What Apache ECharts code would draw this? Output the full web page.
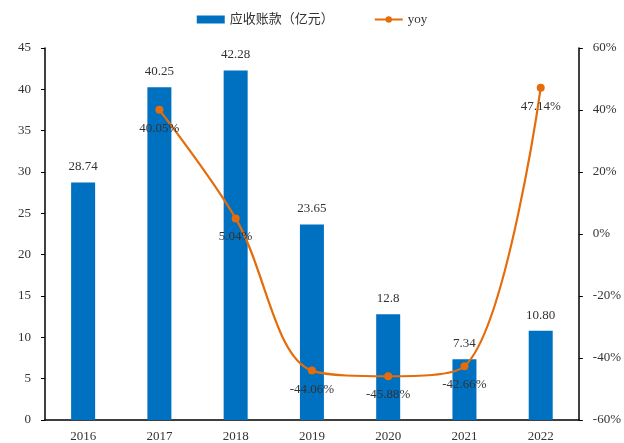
<!DOCTYPE html>
<html>
<head>
<meta charset="utf-8">
<script src="https://cdn.jsdelivr.net/npm/echarts@6/dist/echarts.min.js"></script>
<style>
  html, body { margin: 0; padding: 0; background: #fff; }
  #chart { width: 624px; height: 443px; }
</style>
</head>
<body>
<div id="chart"></div>
<script>
// 数据
const years = ['2016', '2017', '2018', '2019', '2020', '2021', '2022'];
const receivables = [28.74, 40.25, 42.28, 23.65, 12.8, 7.34, 10.80];
const receivableLabels = ['28.74', '40.25', '42.28', '23.65', '12.8', '7.34', '10.80'];
const yoy = [null, 40.05, 5.04, -44.06, -45.88, -42.66, 47.14];

const serif = 'Liberation Serif';
const chart = echarts.init(document.getElementById('chart'));

const option = {
  animation: false,
  textStyle: { fontFamily: serif },
  legend: {
    top: 8,
    left: 'center',
    itemGap: 40,
    textStyle: { fontFamily: ['Liberation Serif', 'Noto Sans CJK SC'], fontSize: 13, color: '#333' },
    data: [
      { name: '应收账款（亿元）', icon: 'rect', itemStyle: { color: '#0070C0' } },
      { name: 'yoy' }
    ],
    itemWidth: 28,
    itemHeight: 8
  },
  grid: { left: 45, right: 44, top: 48, bottom: 23 },
  xAxis: {
    type: 'category',
    data: years,
    axisLine: { lineStyle: { color: '#000', width: 1.5 } },
    axisTick: { show: false },
    axisLabel: { color: '#333', fontSize: 13, fontFamily: serif, margin: 10 }
  },
  yAxis: [
    {
      type: 'value',
      min: 0, max: 45, interval: 5,
      axisLine: { show: true, lineStyle: { color: '#000', width: 1.5 } },
      axisTick: { show: true, length: 4, lineStyle: { color: '#000' } },
      splitLine: { show: false },
      axisLabel: { color: '#333', fontSize: 13, fontFamily: serif, margin: 14 }
    },
    {
      type: 'value',
      min: -60, max: 60, interval: 20,
      axisLine: { show: true, lineStyle: { color: '#000', width: 1.5 } },
      axisTick: { show: true, length: 4, lineStyle: { color: '#000' } },
      splitLine: { show: false },
      axisLabel: { color: '#333', fontSize: 13, fontFamily: serif, margin: 14, formatter: '{value}%' }
    }
  ],
  series: [
    {
      name: '应收账款（亿元）',
      type: 'bar',
      data: receivables,
      barWidth: 24,
      itemStyle: { color: '#0070C0' },
      label: {
        show: true,
        position: 'top',
        distance: 9,
        color: '#333',
        fontSize: 13,
        fontFamily: serif,
        formatter: p => receivableLabels[p.dataIndex]
      }
    },
    {
      name: 'yoy',
      type: 'line',
      yAxisIndex: 1,
      data: yoy,
      smooth: 0.35,
      symbol: 'circle',
      symbolSize: 8,
      lineStyle: { color: '#E46C0A', width: 2.2 },
      itemStyle: { color: '#E46C0A' },
      label: {
        show: true,
        position: 'bottom',
        distance: 8,
        color: '#333',
        fontSize: 13,
        fontFamily: serif,
        formatter: p => p.value.toFixed(2) + '%'
      }
    }
  ]
};

chart.setOption(option);
</script>
</body>
</html>
